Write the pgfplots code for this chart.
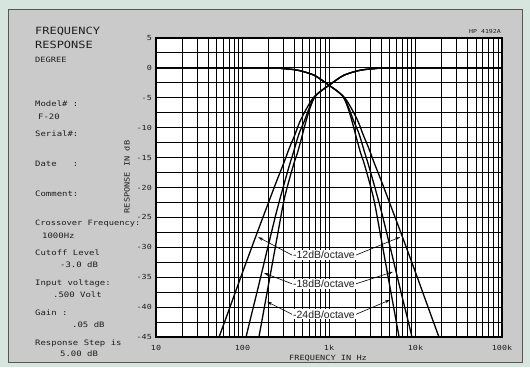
\documentclass[border=0pt]{standalone}
\usepackage{pgfplots}
\pgfplotsset{compat=1.18}
\usepackage{fontspec}
\usetikzlibrary{arrows.meta}
\newfontfamily\plotfont[FakeStretch=1.2]{DejaVu Sans Mono}
\newfontfamily\labfont{Liberation Sans}
\definecolor{mint}{RGB}{214,229,221}
\definecolor{panel}{RGB}{201,202,201}
\definecolor{ink}{RGB}{30,30,30}
\newcommand\pf[1]{\plotfont\fontsize{#1}{#1}\selectfont}

\pgfplotstableread{
f dB
50 -46.2
70 -40.4
100 -34.2
150 -27.3
200 -22.5
250 -18.8
300 -15.9
350 -13.3
400 -11.3
460 -9.0
550 -6.8
650 -5.1
800 -3.9
1000 -2.9
1250 -1.9
1500 -1.2
2000 -0.6
2500 -0.3
3500 -0.1
5000 0
100000 0
}\hpA
\pgfplotstableread{
f dB
100 -47.5
120 -42.7
150 -37.0
200 -29.5
250 -23.8
300 -19.6
350 -16.2
390 -14.0
450 -11.0
515 -9.0
580 -7.0
650 -5.3
700 -4.6
800 -3.9
1000 -2.9
1250 -1.9
1500 -1.2
2000 -0.6
2500 -0.3
3500 -0.1
5000 0
100000 0
}\hpB
\pgfplotstableread{
f dB
150 -46.1
170 -41.8
200 -36.2
250 -28.5
300 -22.3
350 -18.5
400 -15.6
430 -14.3
480 -11.8
540 -9.0
600 -6.8
650 -5.5
700 -4.7
800 -3.9
1000 -2.9
1250 -1.9
1500 -1.2
2000 -0.6
2500 -0.3
3500 -0.1
5000 0
100000 0
}\hpC
\pgfplotstableread{
f dB
10 0
200 0
286 -0.1
400 -0.3
500 -0.6
667 -1.2
800 -1.9
1000 -2.9
1250 -3.9
1538 -5.1
1818 -6.8
2174 -9.0
2500 -11.3
2857 -13.3
3333 -15.9
4000 -18.8
5000 -22.5
6667 -27.3
10000 -34.2
14286 -40.4
20000 -46.2
}\lpA
\pgfplotstableread{
f dB
10 0
200 0
286 -0.1
400 -0.3
500 -0.6
667 -1.2
800 -1.9
1000 -2.9
1250 -3.9
1429 -4.6
1538 -5.3
1724 -7.0
1942 -9.0
2222 -11.0
2564 -14.0
2857 -16.2
3333 -19.6
4000 -23.8
5000 -29.5
6667 -37.0
8333 -42.7
10000 -47.5
}\lpB
\pgfplotstableread{
f dB
10 0
200 0
286 -0.1
400 -0.3
500 -0.6
667 -1.2
800 -1.9
1000 -2.9
1250 -3.9
1429 -4.7
1538 -5.5
1667 -6.8
1852 -9.0
2083 -11.8
2326 -14.3
2500 -15.6
2857 -18.5
3333 -22.3
4000 -28.5
5000 -36.2
5882 -41.8
6667 -46.1
}\lpC

\begin{document}
\begin{tikzpicture}[x=1bp,y=1bp]
\fill[mint] (0,0) rectangle (530,367);
\filldraw[fill=panel, draw=ink!75, line width=1bp] (8,5) rectangle (522,357);
\begin{scope}[every node/.style={anchor=west, inner sep=0pt, text=ink}]
\node[font=\pf{10}] at (35,336) {FREQUENCY};
\node[font=\pf{10}] at (35,322) {RESPONSE};
\node[font=\pf{7.3}] at (35,307) {DEGREE};
\node[font=\pf{7.5}] at (35,263) {Model\# :};
\node[font=\pf{7.5}] at (38,250) {F-20};
\node[font=\pf{7.5}] at (35,233) {Serial\#:};
\node[font=\pf{7.5}] at (35,203) {Date\ \ \ :};
\node[font=\pf{7.5}] at (35,173) {Comment:};
\node[font=\pf{7.3}] at (35,143) {Crossover Frequency:};
\node[font=\pf{7.5}] at (42,131) {1000Hz};
\node[font=\pf{7.5}] at (35,114) {Cutoff Level};
\node[font=\pf{7.5}] at (60,102) {-3.0 dB};
\node[font=\pf{7.5}] at (35,84) {Input voltage:};
\node[font=\pf{7.5}] at (53,72) {.500 Volt};
\node[font=\pf{7.5}] at (35,54) {Gain :};
\node[font=\pf{7.5}] at (72,42) {.05 dB};
\node[font=\pf{7.5}] at (35,24) {Response Step is};
\node[font=\pf{7.5}] at (60,13) {5.00 dB};
\end{scope}
\node[inner sep=0pt, text=ink, font=\pf{7.2}, rotate=90] at (127,190) {RESPONSE IN dB};
\node[inner sep=0pt, text=ink, font=\pf{7.2}] at (328,9) {FREQUENCY IN Hz};
\node[inner sep=0pt, text=ink, font=\pf{5.5}] at (485,335) {HP 4192A};
\begin{axis}[
  at={(156bp,30bp)}, anchor=south west,
  scale only axis, width=346bp, height=299bp,
  xmode=log, xmin=10, xmax=100000, ymin=-45, ymax=5,
  xtick={10,100,1000,10000,100000},
  xticklabels={10,100,1k,10k,100k},
  minor xtick={20,30,40,50,60,70,80,90,200,300,400,500,600,700,800,900,2000,3000,4000,5000,6000,7000,8000,9000,20000,30000,40000,50000,60000,70000,80000,90000},
  ytick={-45,-40,-35,-30,-25,-20,-15,-10,-5,0,5},
  yticklabels={-45,-40,-35,-30,-25,-20,-15,-10,-5,0,5},
  minor ytick={-42.5,-37.5,-32.5,-27.5,-22.5,-17.5,-12.5,-7.5,-2.5,2.5},
  grid=both,
  major grid style={black, line width=0.95bp},
  minor grid style={black, line width=0.95bp},
  major tick length=0pt, minor tick length=0pt,
  axis line style={black, line width=1.1bp},
  axis background/.style={fill=white},
  tick label style={font=\pf{7}, text=ink},
  yticklabel style={anchor=east, inner sep=0pt, xshift=-4bp},
  xticklabel style={anchor=north, inner sep=0pt, yshift=-8bp},
  cycle list={{black, solid, no marks}},
  every axis plot/.append style={line width=1.3bp, smooth, tension=0.5},
]
\addplot table[x=f,y=dB] {\hpA};
\addplot table[x=f,y=dB] {\hpB};
\addplot table[x=f,y=dB] {\hpC};
\addplot table[x=f,y=dB] {\lpA};
\addplot table[x=f,y=dB] {\lpB};
\addplot table[x=f,y=dB] {\lpC};
\tikzset{arr/.style={black, line width=0.6bp, -{Stealth[length=5bp,width=3bp]}}}
\node[fill=white, inner sep=1bp, font=\labfont\fontsize{10.5}{10.5}\selectfont, text=ink] (l12) at (axis cs:875,-31.3) {-12dB/octave};
\node[fill=white, inner sep=1bp, font=\labfont\fontsize{10.5}{10.5}\selectfont, text=ink] (l18) at (axis cs:875,-36.1) {-18dB/octave};
\node[fill=white, inner sep=1bp, font=\labfont\fontsize{10.5}{10.5}\selectfont, text=ink] (l24) at (axis cs:875,-41.2) {-24dB/octave};
\draw[arr] (l12.west) -- (axis cs:152,-28.3);
\draw[arr] (l12.east) -- (axis cs:6620,-28.3);
\draw[arr] (l18.west) -- (axis cs:177,-34.3);
\draw[arr] (l18.east) -- (axis cs:5500,-34.1);
\draw[arr] (l24.west) -- (axis cs:192,-39.1);
\draw[arr] (l24.east) -- (axis cs:5070,-38.8);
\end{axis}
\end{tikzpicture}
\end{document}
